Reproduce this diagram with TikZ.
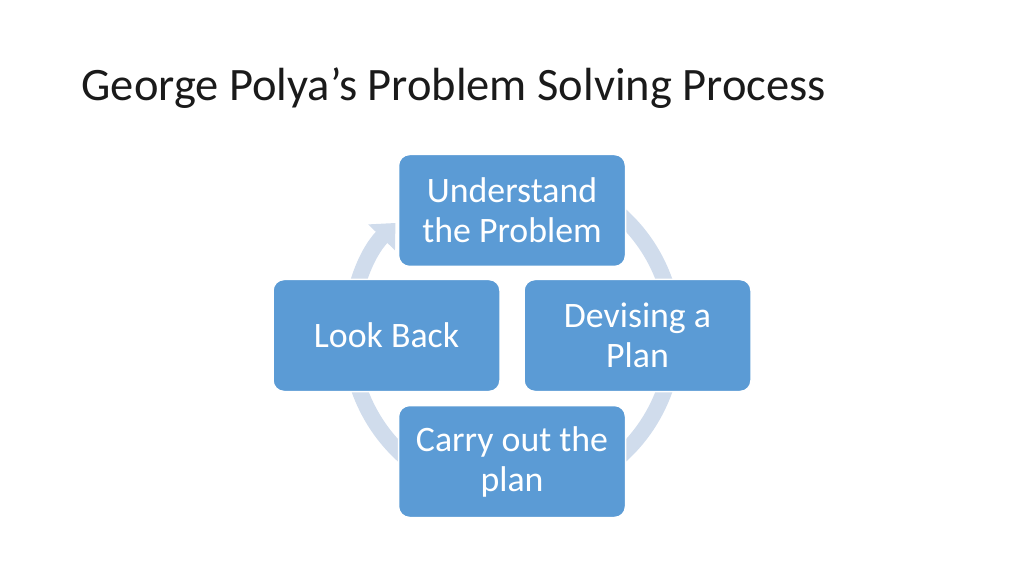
\documentclass[tikz,border=0pt]{standalone}
\usepackage{fontspec}
\setmainfont{Carlito}
\usepackage{tikz}
\usetikzlibrary{arrows.meta}

\definecolor{blockblue}{HTML}{5B9BD5}
\definecolor{ringblue}{HTML}{D0DCEC}
\definecolor{titlegray}{HTML}{1A1A1A}

\tikzset{
  blockbox/.style={draw=white,line width=1.5pt,fill=blockblue,rounded corners=11pt,
    minimum width=227pt,minimum height=112pt,align=center,text=white,
    font=\fontsize{35.8}{40}\selectfont},
  ringline/.style={draw=ringblue,line width=16pt,-{Triangle[width=36pt,length=20pt]}}
}

\begin{document}
\begin{tikzpicture}[x=1pt,y=1pt]
\useasboundingbox (0,0) rectangle (1024,576);
\node[anchor=base west,text=titlegray,font=\fontsize{46.5}{54}\selectfont] (title) at (78,475) {George Polya’s Problem Solving Process};
\coordinate (centre) at (512,240.5);
% ring behind the blocks
\draw[ringline] (centre) ++(62:162) arc[start angle=62,end angle=-224,radius=162];
\foreach \nm/\px/\py/\txt in {understand/512/365.5/{Understand\\the Problem},
  devise/637.5/240.5/{Devising a\\Plan},
  carry/512/114.5/{Carry out the\\plan},
  lookback/386.5/240.5/{Look Back}}
 \node[blockbox] (\nm) at (\px,\py) {\txt};
\end{tikzpicture}
\end{document}
